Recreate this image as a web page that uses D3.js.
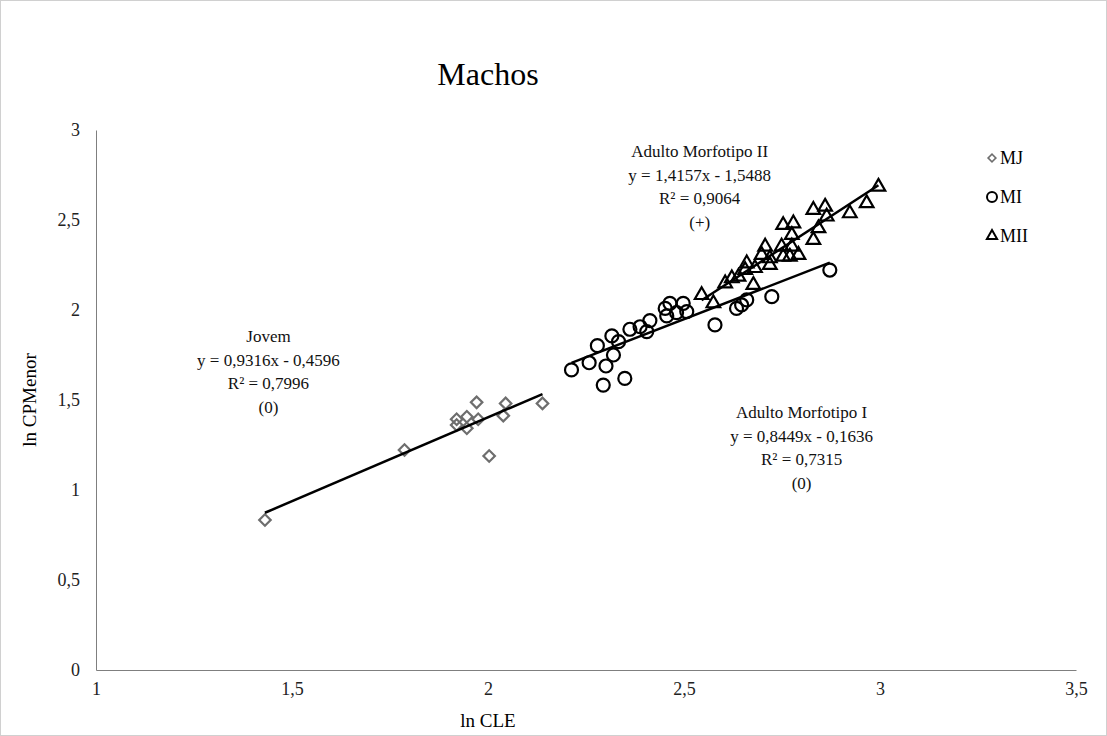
<!DOCTYPE html>
<html lang="en">
<head>
<meta charset="UTF-8">
<title>Machos</title>
<style>
  body { margin: 0; background: #fff; }
  svg text { font-family: "Liberation Serif", "Times New Roman", serif !important; }
  .axis path, .axis line { stroke: #7f7f7f; }
  .axis text { font-size: 18px; fill: #222; }
  .trend { stroke: #000; stroke-width: 2.5px; }
  .note { font-size: 17px; fill: #111; text-anchor: middle; }
</style>
<script src="https://cdn.jsdelivr.net/npm/d3@7"></script>
</head>
<body>
<div class="wrap"></div>
<script>
// series data: [ln CLE, ln CPMenor]
var mjPoints = [
  [1.431, 0.833], [1.787, 1.222], [1.920, 1.393], [1.920, 1.361], [1.946, 1.407],
  [1.946, 1.343], [1.971, 1.487], [1.975, 1.393], [2.003, 1.189], [2.039, 1.413],
  [2.045, 1.481], [2.139, 1.481]
];
var miPoints = [
  [2.213, 1.667], [2.258, 1.707], [2.279, 1.802], [2.294, 1.583], [2.301, 1.689],
  [2.316, 1.856], [2.320, 1.750], [2.333, 1.824], [2.349, 1.620], [2.362, 1.893],
  [2.388, 1.907], [2.405, 1.880], [2.413, 1.941], [2.452, 2.009], [2.456, 1.967],
  [2.464, 2.037], [2.481, 1.985], [2.498, 2.037], [2.507, 1.991], [2.579, 1.917],
  [2.634, 2.009], [2.647, 2.028], [2.660, 2.056], [2.724, 2.074], [2.872, 2.222]
];
var miiPoints = [
  [2.545, 2.083], [2.575, 2.037], [2.605, 2.148], [2.622, 2.176], [2.639, 2.185],
  [2.656, 2.222], [2.660, 2.259], [2.677, 2.139], [2.681, 2.233], [2.698, 2.306],
  [2.707, 2.352], [2.719, 2.287], [2.719, 2.250], [2.749, 2.352], [2.753, 2.472],
  [2.753, 2.296], [2.770, 2.296], [2.775, 2.417], [2.775, 2.352], [2.779, 2.481],
  [2.792, 2.306], [2.830, 2.556], [2.830, 2.389], [2.843, 2.454], [2.860, 2.574],
  [2.864, 2.519], [2.923, 2.537], [2.966, 2.593], [2.996, 2.685]
];

// linear fits [slope, intercept]
var mjFit = [0.9316, -0.4596];
var miFit = [0.8449, -0.1636];
var miiFit = [1.4157, -1.5488];

var xTicks = [1, 1.5, 2, 2.5, 3, 3.5];
var yTicks = [0, 0.5, 1, 1.5, 2, 2.5, 3];

var legendNames = ["MJ", "MI", "MII"];

var noteJovem = ["Jovem", "y = 0,9316x  - 0,4596", "R² = 0,7996", "(0)"];
var noteMI = ["Adulto Morfotipo I", "y = 0,8449x  - 0,1636", "R² = 0,7315", "(0)"];
var noteMII = ["Adulto Morfotipo II", "y = 1,4157x  - 1,5488", "R² = 0,9064", "(+)"];

var W = 1107, H = 736;
var margin = {top: 130, right: 31, bottom: 66, left: 96};
var width = W - margin.left - margin.right,
    height = H - margin.top - margin.bottom;

var ptBR = d3.formatLocale({decimal: ",", thousands: ".", grouping: [3], currency: ["R$", ""]});
var fmt = ptBR.format("~g");

var x = d3.scaleLinear().domain([1, 3.5]).range([0, width]);
var y = d3.scaleLinear().domain([0, 3]).range([height, 0]);

var root = d3.select(".wrap").append("svg")
    .attr("width", W)
    .attr("height", H);

// outer frame
root.append("rect")
    .attr("x", 0.5).attr("y", 0.5)
    .attr("width", W - 1).attr("height", H - 1)
    .attr("fill", "#fff")
    .attr("stroke", "#d0d0d0");

var svg = root.append("g")
    .attr("transform", "translate(" + margin.left + "," + margin.top + ")");

// axes
var xAxis = svg.append("g")
    .attr("class", "axis")
    .attr("transform", "translate(0," + height + ")")
    .call(d3.axisBottom(x).tickValues(xTicks).tickFormat(fmt).tickSize(0).tickPadding(12));

var yAxis = svg.append("g")
    .attr("class", "axis")
    .call(d3.axisLeft(y).tickValues(yTicks).tickFormat(fmt).tickSize(0).tickPadding(16));

// axis titles
svg.append("text")
    .attr("x", x(2)).attr("y", height + 57)
    .attr("text-anchor", "middle")
    .attr("font-size", 19)
    .text("ln CLE");

svg.append("text")
    .attr("transform", "translate(-60," + y(1.5) + ") rotate(-90)")
    .attr("text-anchor", "middle")
    .attr("font-size", 19)
    .text("ln CPMenor");

// title
root.append("text")
    .attr("x", margin.left + x(2)).attr("y", 85)
    .attr("text-anchor", "middle")
    .attr("font-size", 32)
    .text("Machos");

// trend lines from min to max x of each series
function drawTrend(pts, fit) {
  var ext = d3.extent(pts, function(d) { return d[0]; });
  svg.append("line")
      .attr("class", "trend")
      .attr("x1", x(ext[0])).attr("y1", y(fit[0] * ext[0] + fit[1]))
      .attr("x2", x(ext[1])).attr("y2", y(fit[0] * ext[1] + fit[1]));
}

var diamond = d3.symbol().type(d3.symbolSquare).size(66)();
var triangle = d3.symbol().type(d3.symbolTriangle).size(80)();

// MJ
svg.selectAll("path.mj").data(mjPoints).enter().append("path")
    .attr("class", "mj")
    .attr("d", diamond)
    .attr("transform", function(d) { return "translate(" + x(d[0]) + "," + y(d[1]) + ") rotate(45)"; })
    .attr("fill", "none")
    .attr("stroke", "#6e6e6e")
    .attr("stroke-width", 2.2);

// MI
svg.selectAll("circle.mi").data(miPoints).enter().append("circle")
    .attr("class", "mi")
    .attr("r", 6.5)
    .attr("cx", function(d) { return x(d[0]); })
    .attr("cy", function(d) { return y(d[1]); })
    .attr("fill", "none")
    .attr("stroke", "#000")
    .attr("stroke-width", 2.2);

// MII
svg.selectAll("path.mii").data(miiPoints).enter().append("path")
    .attr("class", "mii")
    .attr("d", triangle)
    .attr("transform", function(d) { return "translate(" + x(d[0]) + "," + y(d[1]) + ")"; })
    .attr("fill", "none")
    .attr("stroke", "#000")
    .attr("stroke-width", 2.2);

drawTrend(mjPoints, mjFit);
drawTrend(miPoints, miFit);
drawTrend(miiPoints, miiFit);

// regression notes
function drawNote(lines, cx, cy) {
  svg.selectAll(null).data(lines).enter().append("text")
      .attr("class", "note")
      .attr("x", cx)
      .attr("y", function(d, i) { return cy + i * 23.5; })
      .text(function(d) { return d; });
}
drawNote(noteJovem, x(1.44), y(1.82));
drawNote(noteMI, x(2.8), y(1.40));
drawNote(noteMII, x(2.54), y(2.85));

// legend
var legend = root.append("g").attr("transform", "translate(992,158)");
legendNames.forEach(function(name, i) {
  var g = legend.append("g").attr("transform", "translate(0," + i * 39 + ")");
  if (i === 0) {
    g.append("path").attr("d", d3.symbol().type(d3.symbolSquare).size(30)())
        .attr("transform", "rotate(45)")
        .attr("fill", "none").attr("stroke", "#6e6e6e").attr("stroke-width", 1.6);
  } else if (i === 1) {
    g.append("circle").attr("r", 5)
        .attr("fill", "none").attr("stroke", "#000").attr("stroke-width", 2);
  } else {
    g.append("path").attr("d", d3.symbol().type(d3.symbolTriangle).size(45)())
        .attr("fill", "none").attr("stroke", "#000").attr("stroke-width", 2);
  }
  g.append("text")
      .attr("x", 8).attr("y", 6)
      .attr("font-size", 18)
      .text(name);
});
</script>
</body>
</html>
